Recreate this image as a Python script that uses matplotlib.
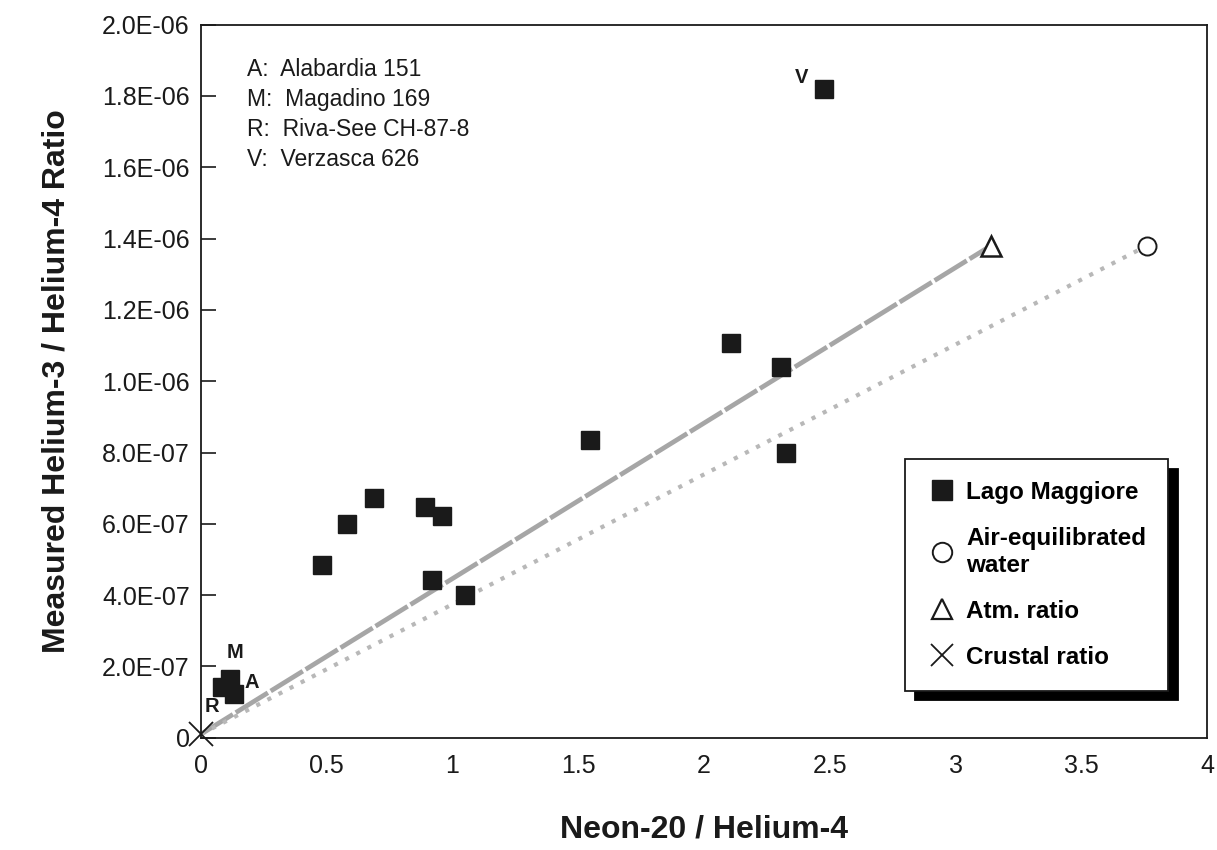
import numpy as np
import matplotlib
matplotlib.use("Agg")
import matplotlib.pyplot as plt
from matplotlib.lines import Line2D
from matplotlib.ticker import FuncFormatter

# Lago Maggiore samples (Ne-20/He-4, He-3/He-4)
lago_ne = [0.083, 0.115, 0.13, 0.48, 0.58, 0.687, 0.893, 0.96, 0.917, 1.05,
           1.548, 2.107, 2.306, 2.325, 2.476]
lago_he = [1.43e-7, 1.65e-7, 1.23e-7, 4.85e-7, 6.0e-7, 6.73e-7, 6.48e-7, 6.23e-7,
           4.43e-7, 4.0e-7, 8.36e-7, 1.108e-6, 1.04e-6, 8.0e-7, 1.82e-6]

# labelled samples: letter, Ne/He, He3/He4
label_names = ["R", "M", "A", "V"]
label_ne = [0.083, 0.115, 0.13, 2.476]
label_he = [1.43e-7, 1.65e-7, 1.23e-7, 1.82e-6]

# end members
aew_ne, aew_he = 3.76, 1.38e-6      # air-equilibrated water
atm_ne, atm_he = 3.14, 1.38e-6      # atmospheric ratio
crust_ne, crust_he = 0.0, 1.0e-8    # crustal ratio

sample_key = ["A:  Alabardia 151", "M:  Magadino 169", "R:  Riva-See CH-87-8", "V:  Verzasca 626"]

plt.rcParams.update({
    "font.family": ["Liberation Sans", "DejaVu Sans"],
    "font.size": 15,
})

fig = plt.figure(figsize=(12.17, 8.5), dpi=100)
ax = fig.add_axes([0.165, 0.132, 0.827, 0.839])

# mixing lines from crustal end member
ax.plot([crust_ne, atm_ne], [crust_he, atm_he], color="#a6a6a6", lw=3.4,
        linestyle=(0, (8, 0.7)), zorder=1)
ax.plot([crust_ne, aew_ne], [crust_he, aew_he], color="#b8b8b8", lw=3.0,
        linestyle=(0, (1, 2.0)), zorder=1)

ax.plot(lago_ne, lago_he, "s", color="#1a1a1a", markersize=13, mec="#1a1a1a", zorder=3)
ax.plot([aew_ne], [aew_he], "o", mfc="white", mec="#1a1a1a", mew=1.4, markersize=13, zorder=3)
ax.plot([atm_ne], [atm_he], "^", mfc="white", mec="#1a1a1a", mew=1.8, markersize=15, zorder=3)
ax.plot([crust_ne], [crust_he], "x", color="#1a1a1a", mew=1.3, markersize=17,
        zorder=4, clip_on=False)

offsets = {"R": (-7, -14), "M": (4, 19), "A": (13, 8), "V": (-16, 8)}
for name, xv, yv in zip(label_names, label_ne, label_he):
    ax.annotate(name, (xv, yv), xytext=offsets[name], textcoords="offset points",
                ha="center", va="center", fontsize=14.5, fontweight="bold", color="#1a1a1a")

for i, line in enumerate(sample_key):
    ax.text(0.046, 0.937 - i * 0.042, line, transform=ax.transAxes, fontsize=16.5,
            ha="left", va="center", color="#1a1a1a")

ax.set_xlim(0, 4)
ax.set_ylim(0, 2.0e-6)
ax.set_xticks(np.arange(0, 4.01, 0.5))
ax.set_yticks(np.arange(0, 2.01e-6, 2e-7))
ax.xaxis.set_major_formatter(FuncFormatter(lambda v, p: "%g" % v))
ax.yaxis.set_major_formatter(FuncFormatter(lambda v, p: "0" if abs(v) < 1e-12 else "%.1E" % v))
ax.tick_params(axis="y", direction="in", length=11, width=1.2, pad=8, labelsize=18,
               colors="#1a1a1a")
ax.tick_params(axis="x", length=0, pad=12, labelsize=18, colors="#1a1a1a")
for s in ax.spines.values():
    s.set_linewidth(1.3)
    s.set_color("#1a1a1a")

ax.set_xlabel("Neon-20 / Helium-4", fontsize=23, fontweight="bold", labelpad=26,
              color="#1a1a1a")
ax.set_ylabel("Measured Helium-3 / Helium-4 Ratio", fontsize=23, fontweight="bold",
              labelpad=22, color="#1a1a1a")

handles = [
    Line2D([], [], marker="s", ls="none", color="#1a1a1a", markersize=14),
    Line2D([], [], marker="o", ls="none", mfc="white", mec="#1a1a1a", mew=1.4, markersize=14),
    Line2D([], [], marker="^", ls="none", mfc="white", mec="#1a1a1a", mew=1.6, markersize=14),
    Line2D([], [], marker="x", ls="none", color="#1a1a1a", mew=1.3, markersize=16),
]
names = ["Lago Maggiore", "Air-equilibrated\nwater", "Atm. ratio", "Crustal ratio"]
leg = ax.legend(handles, names, loc="upper left", bbox_to_anchor=(0.700, 0.391),
                borderaxespad=0, fancybox=False, framealpha=1, edgecolor="#1a1a1a",
                shadow={"color": "black", "alpha": 1, "ox": 7, "oy": -7},
                prop={"weight": "bold", "size": 17.5}, handletextpad=0.4,
                handlelength=1.2, labelspacing=0.95, borderpad=0.9)
leg.get_frame().set_linewidth(1.3)

fig.savefig("out.png", dpi=100)
